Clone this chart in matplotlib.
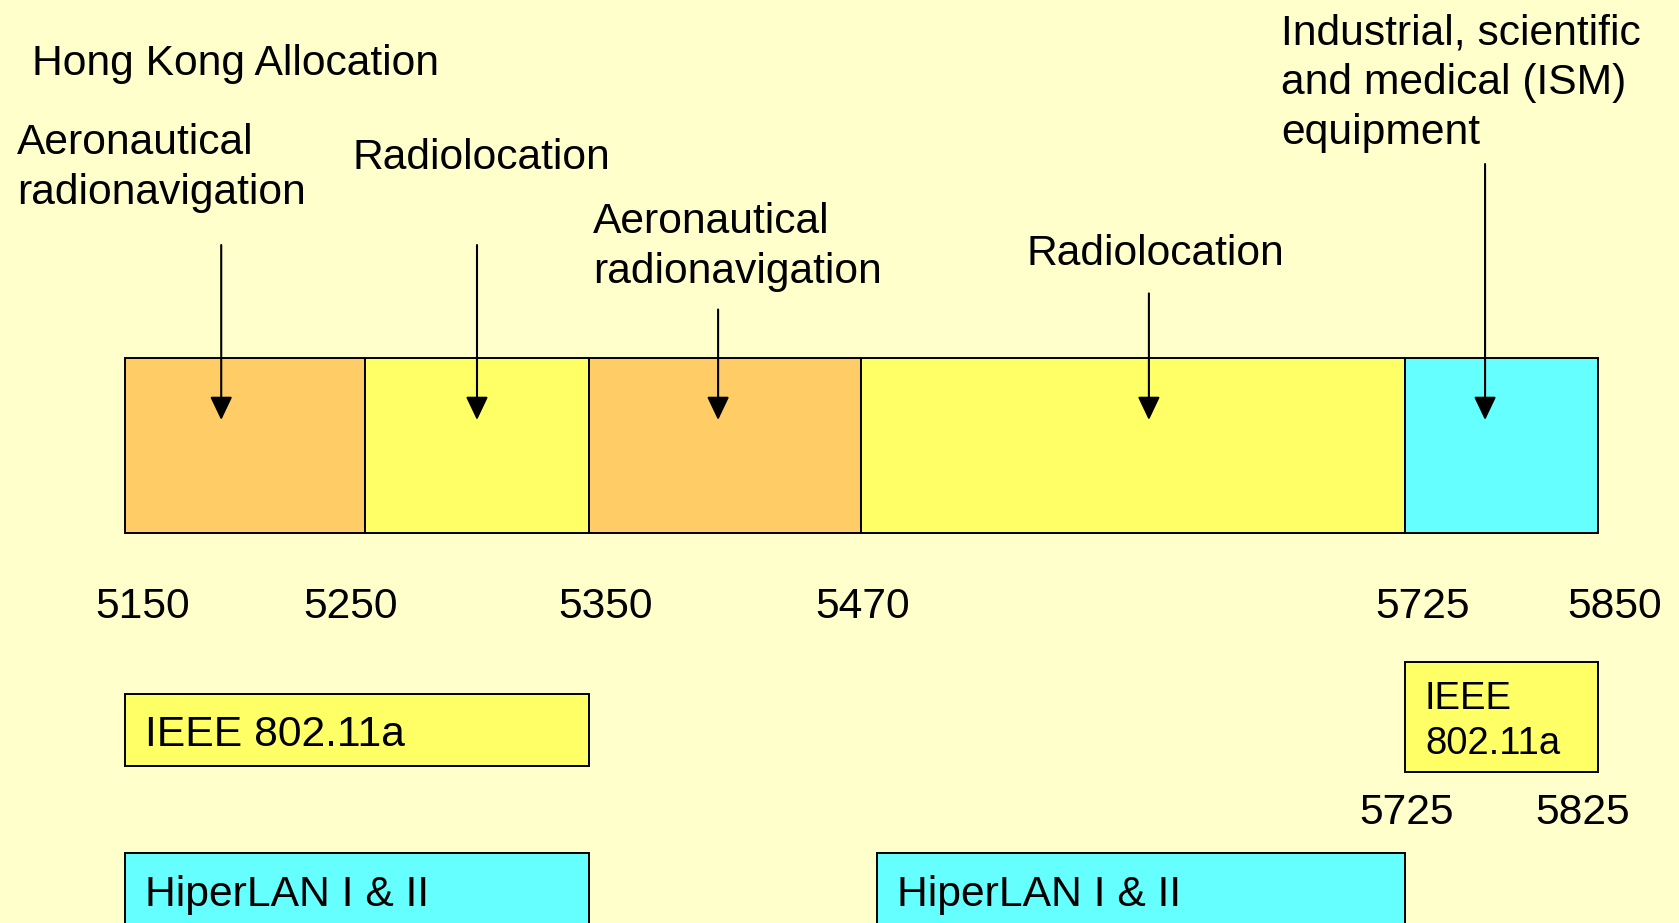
import numpy as np
import matplotlib
matplotlib.use("Agg")
import matplotlib.pyplot as plt
from matplotlib.transforms import offset_copy

# ---------------- data ----------------
title = "Hong Kong Allocation"
band_edges = [5150, 5250, 5350, 5470, 5725, 5850]
band_kinds = ["aero", "radio", "aero", "radio", "ism"]
band_services = [
    "Aeronautical\nradionavigation",
    "Radiolocation",
    "Aeronautical\nradionavigation",
    "Radiolocation",
    "Industrial, scientific\nand medical (ISM)\nequipment",
]
arrow_freqs = [5190, 5300, 5407, 5605, 5777]

ieee_ranges = [(5150, 5350), (5725, 5825)]
ieee_labels = ["IEEE 802.11a", "IEEE\n802.11a"]
ieee_edge_labels = ["5725", "5825"]
hiperlan_ranges = [(5150, 5350), (5470, 5725)]
hiperlan_labels = ["HiperLAN I & II", "HiperLAN I & II"]

# ---------------- layout / style ----------------
W, H = 1679, 923
BG = "#FFFFCC"
kind_colors = {"aero": "#FFCC66", "radio": "#FFFF66", "ism": "#66FFFF"}
FONT = "Liberation Sans"
FS = 30.7
FS_SMALL = 27.5
LINE = 50

# schematic (non-proportional) frequency -> horizontal position maps
top_pos = [125.3, 365.1, 588.9, 860.9, 1404.9, 1597.6]
std_freq = [5150, 5350, 5470, 5725, 5825]
std_pos = [125.3, 589.0, 877.0, 1405.0, 1597.6]

band_y = (357.6, 533.3)
service_xy = [(17, 154), (353, 169), (593, 233), (1026, 265), (1281, 44)]
arrow_tail_y = [245, 245, 309.5, 293.4, 164]
arrow_tip_y = 420
title_xy = (32, 75)
tick_baseline = 618
tick_nudge = [17, -15, 17, 2, 18, 17]
ieee_y = [(694, 766), (662, 772)]
ieee_text_baseline = [746, 709]
ieee_font = [FS, FS_SMALL]
ieee_line = [LINE, 45]
edge_label_baseline = 824
edge_label_nudge = [2, -15]
hiper_y = (853, 990)
hiper_text_baseline = 906
text_pad = 20


def schematic_scale(freqs, pos):
    f = np.asarray(freqs, float)
    p = np.asarray(pos, float)
    s0 = (p[1] - p[0]) / (f[1] - f[0])
    s1 = (p[-1] - p[-2]) / (f[-1] - f[-2])
    fe = np.concatenate([[f[0] - 1e4], f, [f[-1] + 1e4]])
    pe = np.concatenate([[p[0] - 1e4 * s0], p, [p[-1] + 1e4 * s1]])

    def fwd(x):
        return np.interp(x, fe, pe)

    def inv(y):
        return np.interp(y, pe, fe)

    return fwd, inv


fig = plt.figure(figsize=(W / 100, H / 100), dpi=100, facecolor=BG)


def make_axes(freqs, pos, label):
    ax = fig.add_axes([0, 0, 1, 1], label=label)
    fwd, inv = schematic_scale(freqs, pos)
    ax.set_xscale("function", functions=(fwd, inv))
    ax.set_xlim(float(inv(0)), float(inv(W)))
    ax.set_ylim(H, 0)
    ax.set_axis_off()
    ax.patch.set_visible(False)
    return ax


ax_band = make_axes(band_edges, top_pos, "bands")
ax_std = make_axes(std_freq, std_pos, "standards")

lay = fig.add_axes([0, 0, 1, 1], label="layout")
lay.set_xlim(0, W)
lay.set_ylim(H, 0)
lay.set_axis_off()
lay.patch.set_visible(False)


def put_lines(ax, x, y, text, size, line, transform=None):
    for i, ln in enumerate(text.split("\n")):
        ax.text(x, y + i * line, ln, fontsize=size, family=FONT,
                ha="left", va="baseline", color="black",
                transform=transform if transform is not None else ax.transData)


# title
put_lines(lay, title_xy[0], title_xy[1], title, FS, LINE)

# allocation bands
lo = np.array(band_edges[:-1], float)
hi = np.array(band_edges[1:], float)
ax_band.bar(lo, band_y[1] - band_y[0], width=hi - lo, bottom=band_y[0],
            align="edge", color=[kind_colors[k] for k in band_kinds],
            edgecolor="black", linewidth=1.4, zorder=2)

# service labels + arrows
for (tx, ty), txt in zip(service_xy, band_services):
    put_lines(lay, tx, ty, txt, FS, LINE)
for f, ty in zip(arrow_freqs, arrow_tail_y):
    ax_band.annotate("", xy=(f, arrow_tip_y), xytext=(f, ty),
                     arrowprops=dict(arrowstyle="-|>,head_length=0.42,head_width=0.2",
                                     mutation_scale=34, lw=1.5, color="black",
                                     shrinkA=0, shrinkB=0), zorder=5)

# frequency edge labels
for f, dx in zip(band_edges, tick_nudge):
    tr = offset_copy(ax_band.transData, fig=fig, x=dx, y=0, units="dots")
    ax_band.text(f, tick_baseline, str(f), fontsize=FS, family=FONT,
                 ha="center", va="baseline", transform=tr)

# IEEE 802.11a boxes
for (a, b), (y0, y1), lab, bl, fs, ls in zip(ieee_ranges, ieee_y, ieee_labels,
                                              ieee_text_baseline, ieee_font, ieee_line):
    ax_std.bar(a, y1 - y0, width=b - a, bottom=y0, align="edge",
               color=kind_colors["radio"], edgecolor="black", linewidth=1.4)
    tr = offset_copy(ax_std.transData, fig=fig, x=text_pad, y=0, units="dots")
    put_lines(ax_std, a, bl, lab, fs, ls, transform=tr)

# IEEE upper-band edge labels
for f, lab, dx in zip(ieee_ranges[1], ieee_edge_labels, edge_label_nudge):
    tr = offset_copy(ax_std.transData, fig=fig, x=dx, y=0, units="dots")
    ax_std.text(f, edge_label_baseline, lab, fontsize=FS, family=FONT,
                ha="center", va="baseline", transform=tr)

# HiperLAN boxes
for (a, b), lab in zip(hiperlan_ranges, hiperlan_labels):
    ax_std.bar(a, hiper_y[1] - hiper_y[0], width=b - a, bottom=hiper_y[0],
               align="edge", color=kind_colors["ism"], edgecolor="black",
               linewidth=1.4)
    tr = offset_copy(ax_std.transData, fig=fig, x=text_pad, y=0, units="dots")
    put_lines(ax_std, a, hiper_text_baseline, lab, FS, LINE, transform=tr)

fig.savefig("out.png", dpi=100, facecolor=BG)
